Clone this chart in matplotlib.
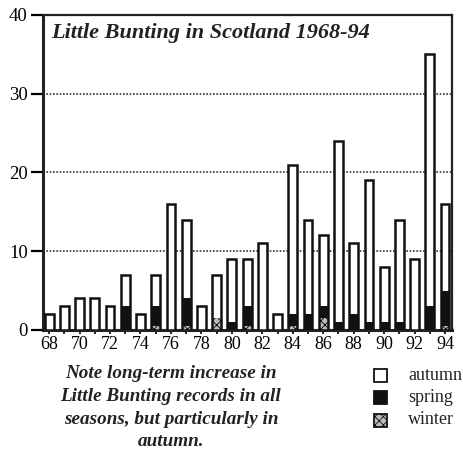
import matplotlib
matplotlib.use("Agg")
import matplotlib.pyplot as plt
import numpy as np
from matplotlib.patches import Rectangle

years = list(range(68, 95))
totals = [2, 3, 4, 4, 3, 7, 2, 7, 16, 14, 3, 7, 9, 9, 11, 2, 21, 14, 12, 24, 11, 19, 8, 14, 9, 35, 16]
spring = [0, 0, 0, 0, 0, 3, 0, 2.5, 0, 3.5, 0, 0, 1, 2.5, 0, 0, 1.5, 2, 1.5, 1, 2, 1, 1, 1, 0, 3, 4.5]
winter = [0, 0, 0, 0, 0, 0, 0, 0.5, 0, 0.5, 0, 1.5, 0, 0.5, 0, 0, 0.5, 0, 1.5, 0, 0, 0, 0, 0, 0, 0, 0.5]
autumn = [t - s - w for t, s, w in zip(totals, spring, winter)]
yticks = [0, 10, 20, 30, 40]
xlabels = [str(y) for y in years if y % 2 == 0]

serif = ["Liberation Serif", "DejaVu Serif"]
plt.rcParams["font.family"] = serif
plt.rcParams["hatch.linewidth"] = 0.6

fig = plt.figure(figsize=(4.64, 4.5), dpi=100)
ax = fig.add_axes([0.0927, 0.2667, 0.8813, 0.70])

x = np.array(years)
w = 0.58
ax.bar(x, winter, w, color="#bbbbbb", hatch="xxxx", edgecolor="black", linewidth=0, zorder=3)
ax.bar(x, spring, w, bottom=winter, color="#111111", edgecolor="#111111", linewidth=0, zorder=3)
bot2 = [a + b for a, b in zip(winter, spring)]
ax.bar(x, autumn, w, bottom=bot2, color="white", edgecolor="black", linewidth=0, zorder=3)
ax.bar(x, totals, w, fill=False, edgecolor="#111111", linewidth=1.8, zorder=4)

ax.set_xlim(67.6, 94.45)
ax.set_ylim(0, 40)
ax.set_yticks(yticks)
ax.set_yticklabels([str(v) for v in yticks], fontsize=13.5)
ax.set_xticks(years, minor=True)
ax.set_xticks([y for y in years if y % 2 == 0])
ax.set_xticklabels(xlabels, fontsize=13)
ax.tick_params(axis="y", direction="out", length=9, width=1.6, pad=2)
ax.tick_params(axis="x", which="both", direction="out", length=3, width=1.2, pad=1)
for v in [10, 20, 30]:
    ax.axhline(v, color="#333333", linestyle=(0, (1, 1)), linewidth=1.2, zorder=1)
for s in ax.spines.values():
    s.set_linewidth(1.6)
    s.set_color("#222222")
ax.spines["left"].set_linewidth(2.2)
ax.spines["bottom"].set_linewidth(2.2)

ax.text(0.02, 0.975, "Little Bunting in Scotland 1968-94", transform=ax.transAxes,
        fontsize=16, fontweight="bold", fontstyle="italic", ha="left", va="top",
        color="#222222")

note = ["Note long-term increase in", "Little Bunting records in all",
        "seasons, but particularly in", "autumn."]
for i, line in enumerate(note):
    fig.text(171 / 464, 1 - (374 + i * 22.5) / 450, line, fontsize=13.8, fontweight="bold",
             fontstyle="italic", ha="center", va="center", color="#222222")

leg_labels = ["autumn", "spring", "winter"]
leg_face = ["white", "#111111", "#bbbbbb"]
leg_hatch = [None, None, "xxxx"]
for i, (lab, fc, h) in enumerate(zip(leg_labels, leg_face, leg_hatch)):
    yc = 375 + i * 22.5
    r = Rectangle((374 / 464, 1 - (yc + 6.5) / 450), 13 / 464, 13 / 450,
                  transform=fig.transFigure, facecolor=fc, edgecolor="#111111",
                  linewidth=1.3, hatch=h)
    fig.add_artist(r)
    fig.text(408 / 464, 1 - yc / 450, lab, fontsize=13, ha="left", va="center", color="#222222")

fig.savefig("out.png", dpi=100)
